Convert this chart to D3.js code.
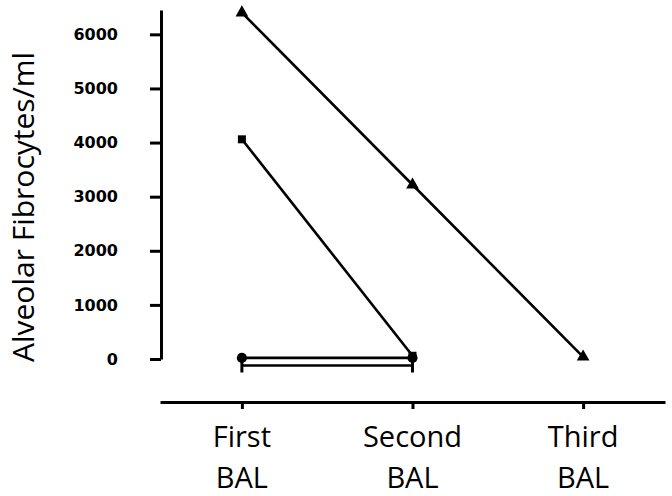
<!DOCTYPE html>
<html>
<head>
<meta charset="utf-8">
<script src="https://cdn.jsdelivr.net/npm/d3@7"></script>
<style>
  body { margin: 0; background: #fff; }
  svg { display: block; }
</style>
</head>
<body>
<div id="chart"></div>
<script>
var categories = ["First BAL", "Second BAL", "Third BAL"];
var yTicks = [0, 1000, 2000, 3000, 4000, 5000, 6000];

// one patient per series
var triangleVals = [6400, 3220, 40];
var squareVals = [4060, 60];
var circleVals = [20, 20];
var barVals = [-120, -120];

var width = 672, height = 496;

var svg = d3.select("#chart").append("svg")
    .attr("width", width)
    .attr("height", height);

var x = d3.scalePoint()
    .domain(categories)
    .range([160, 665])
    .padding(0.48);

var y = d3.scaleLinear()
    .domain([0, 6450])
    .range([359, 10]);

// y axis
var yAxis = svg.append("g")
    .attr("transform", "translate(161,0)")
    .call(d3.axisLeft(y).tickValues(yTicks).tickFormat(d3.format("d"))
        .tickSize(11).tickSizeOuter(0).tickPadding(32));
yAxis.attr("font-size", null).attr("font-family", null);
yAxis.select(".domain").attr("stroke-width", 3);
yAxis.selectAll(".tick line").attr("stroke-width", 3);
yAxis.selectAll(".tick text")
    .style("font-family", "DejaVu Sans")
    .style("font-weight", "bold")
    .style("font-size", "16px")
    .attr("fill", "#000");

svg.append("text")
    .attr("transform", "translate(34," + 207 + ") rotate(-90)")
    .attr("text-anchor", "middle")
    .style("font-family", "Open Sans")
    .style("font-size", "30px")
    .text("Alveolar Fibrocytes/ml");

// x axis
var xAxis = svg.append("g")
    .attr("transform", "translate(0,402)")
    .call(d3.axisBottom(x).tickSize(7).tickSizeOuter(0).tickFormat(""));
xAxis.select(".domain").attr("stroke-width", 3);
xAxis.selectAll(".tick line").attr("stroke-width", 3);

var xl = svg.append("g").selectAll("text")
    .data(categories)
    .join("text")
    .attr("x", function(d) { return x(d); })
    .attr("y", 447)
    .attr("text-anchor", "middle")
    .style("font-family", "Open Sans")
    .style("font-size", "29px");
xl.each(function(d) {
    var parts = d.split(" ");
    var t = d3.select(this);
    t.append("tspan").attr("x", x(d)).text(parts[0]);
    t.append("tspan").attr("x", x(d)).attr("dy", 41).text(parts[1]);
});

function series(vals, shape, size) {
    var pts = vals.map(function(v, i) { return [x(categories[i]), y(v)]; });
    svg.append("path")
        .datum(pts)
        .attr("fill", "none")
        .attr("stroke", "#000")
        .attr("stroke-width", 2.6)
        .attr("d", d3.line());
    if (shape === "bar") {
        svg.append("g").selectAll("line")
            .data(pts)
            .join("line")
            .attr("x1", function(p) { return p[0]; })
            .attr("x2", function(p) { return p[0]; })
            .attr("y1", function(p) { return p[1] - 7; })
            .attr("y2", function(p) { return p[1] + 7; })
            .attr("stroke", "#000")
            .attr("stroke-width", 3);
    } else {
        svg.append("g").selectAll("path")
            .data(pts)
            .join("path")
            .attr("transform", function(p) { return "translate(" + p[0] + "," + p[1] + ")"; })
            .attr("d", d3.symbol().type(shape).size(size))
            .attr("fill", "#000");
    }
}

series(barVals, "bar");
series(circleVals, d3.symbolCircle, 80);
series(squareVals, d3.symbolSquare, 64);
series(triangleVals, d3.symbolTriangle, 70);
</script>
</body>
</html>
